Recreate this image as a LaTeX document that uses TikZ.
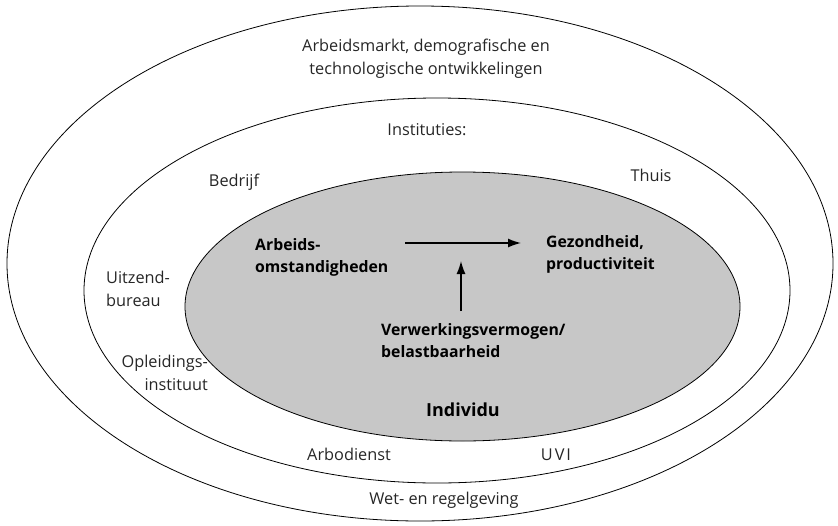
\documentclass[tikz,border=0pt]{standalone}
\usepackage{fontspec}
\setmainfont{Open Sans}
\usetikzlibrary{shapes.geometric,arrows.meta}
\tikzset{
  ring/.style={draw=black, line width=0.8pt, ellipse, inner sep=0pt},
  lbl/.style={font=\fontsize{16.3}{23}\selectfont, inner sep=0pt, text=black!85},
  blbl/.style={font=\fontsize{15.8}{22}\selectfont\bfseries, inner sep=0pt},
  arr/.style={line width=1.4pt, -{Latex[length=13pt,width=9pt]}},
}
\begin{document}
\begin{tikzpicture}[x=1pt,y=-1pt]
\useasboundingbox (0,0) rectangle (838,525);
\node[ring, minimum width=826pt, minimum height=515pt] (outer) at (420,263.5) {};
\node[ring, minimum width=706pt, minimum height=385pt] (middle) at (437,290.5) {};
\node[ring, fill=black!22, minimum width=555pt, minimum height=269pt] (inner) at (462.5,306.5) {};

\node[lbl, align=center] (markt) at (426,59) {Arbeidsmarkt, demografische en\\technologische ontwikkelingen};
\node[lbl] (inst) at (427,130) {Instituties:};
\node[lbl] (bedrijf) at (234,182) {Bedrijf};
\node[lbl] (thuis) at (651,175) {Thuis};
\node[lbl, align=left, anchor=west] (uitzend) at (106,289) {Uitzend-\\bureau};
\node[lbl, align=right, anchor=east] (opleid) at (208,373) {Opleidings-\\instituut};
\node[lbl] (arbo) at (349,454) {Arbodienst};
\node[lbl, font=\fontsize{16.3}{23}\selectfont\addfontfeatures{LetterSpace=12}] (uvi) at (556,455) {UVI};
\node[lbl] (wet) at (444,500) {Wet- en regelgeving};

\node[blbl, align=left, anchor=west] (omst) at (255,257.5) {Arbeids-\\omstandigheden};
\node[blbl, align=left, anchor=west] (gezond) at (546,254) {Gezondheid,\\productiviteit};
\node[blbl, align=left, anchor=west] (verw) at (381,341) {Verwerkingsvermogen/\\belastbaarheid};
\node[blbl, font=\fontsize{18}{22}\selectfont\bfseries] (indiv) at (463,410) {Individu};

\coordinate (h1) at (405,243);
\coordinate (h2) at (521,243);
\coordinate (v1) at (461,311);
\coordinate (v2) at (461,261);
\draw[arr] (h1) -- (h2);
\draw[arr] (v1) -- (v2);
\end{tikzpicture}
\end{document}
